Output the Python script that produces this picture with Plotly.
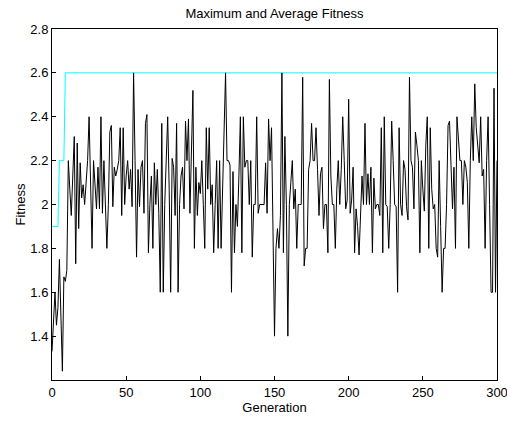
import plotly.graph_objects as go

# Generation numbers and fitness values
generations = list(range(0, 301))

avg_fitness = [
    1.33, 1.47, 1.60, 1.45, 1.53, 1.75, 1.50, 1.24, 1.67, 1.65,
    1.70, 2.20, 2.07, 1.95, 2.13, 2.31, 1.73, 2.28, 1.89, 2.19,
    2.03, 2.09, 2.00, 2.13, 2.20, 2.40, 2.07, 1.80, 2.20, 2.07,
    1.98, 2.17, 1.98, 2.40, 1.96, 2.20, 2.00, 1.80, 2.00, 2.33,
    2.36, 1.99, 2.17, 2.13, 2.16, 2.20, 2.35, 1.95, 2.35, 2.00,
    2.13, 2.20, 2.07, 2.16, 1.99, 2.60, 2.20, 1.76, 2.16, 1.99,
    2.17, 2.20, 1.96, 2.37, 2.41, 1.78, 2.00, 2.13, 1.80, 2.19,
    2.00, 2.16, 1.96, 1.60, 2.37, 1.60, 2.00, 2.20, 2.40, 2.07,
    1.60, 2.21, 2.17, 1.95, 2.37, 1.60, 2.00, 2.13, 2.17, 1.98,
    2.38, 2.20, 2.39, 1.96, 2.27, 2.52, 1.80, 2.17, 1.95, 2.10,
    2.05, 2.20, 2.00, 1.80, 2.35, 2.07, 2.35, 2.00, 2.09, 1.78,
    2.00, 2.20, 1.80, 2.20, 1.80, 2.07, 2.27, 2.60, 2.20, 2.20,
    2.18, 1.60, 2.15, 1.78, 2.00, 1.90, 2.13, 2.40, 1.78, 2.40,
    2.17, 2.20, 2.20, 2.00, 2.20, 1.76, 2.00, 2.00, 2.40, 1.96,
    2.00, 2.00, 2.00, 2.00, 2.19, 1.96, 2.39, 2.20, 2.35, 1.80,
    1.40, 1.80, 1.89, 1.80, 1.95, 2.60, 1.78, 2.31, 2.00, 1.40,
    2.00, 2.10, 2.20, 1.98, 2.07, 1.80, 2.00, 2.00, 2.00, 2.58,
    1.72, 1.80, 1.80, 2.16, 2.20, 2.37, 2.20, 2.20, 2.35, 2.16,
    1.95, 2.14, 2.17, 1.89, 2.00, 2.00, 1.78, 2.57, 2.13, 2.00,
    2.00, 1.80, 2.07, 2.20, 2.00, 2.16, 2.40, 2.20, 1.98, 2.02,
    2.48, 1.96, 2.02, 2.17, 1.78, 1.98, 1.90, 1.77, 1.97, 2.13,
    2.00, 2.37, 2.00, 2.14, 2.00, 2.17, 1.78, 2.12, 1.98, 2.00,
    2.00, 1.95, 2.35, 1.78, 2.40, 2.00, 1.99, 1.80, 2.00, 2.38,
    2.20, 2.00, 1.99, 1.60, 2.35, 2.00, 1.95, 2.20, 2.16, 1.99,
    1.93, 2.58, 2.20, 2.17, 1.98, 2.33, 2.27, 2.20, 1.78, 2.20,
    2.07, 1.97, 2.27, 2.40, 1.80, 2.35, 2.07, 1.98, 2.00, 1.80,
    1.76, 2.20, 1.90, 1.60, 1.80, 1.80, 2.00, 2.36, 2.38, 2.20,
    1.98, 2.17, 1.80, 2.40, 2.30, 2.20, 2.20, 2.00, 2.20, 2.17,
    2.10, 1.80, 2.20, 2.40, 2.20, 2.55, 2.35, 2.25, 2.19, 2.40,
    2.13, 2.16, 1.80, 2.20, 2.40, 2.00, 1.60, 1.60, 2.53, 1.60,
    2.20,
]

max_fitness = [1.9] * 5 + [2.2] * 4 + [2.6] * 292

y_ticks = [1.4, 1.6, 1.8, 2.0, 2.2, 2.4, 2.6, 2.8]
y_labels = ["1.4", "1.6", "1.8", "2", "2.2", "2.4", "2.6", "2.8"]
x_ticks = [0, 50, 100, 150, 200, 250, 300]

font_main = dict(family="Liberation Sans, Arial", size=13, color="#000000")

fig = go.Figure()
fig.add_trace(go.Scatter(x=generations, y=max_fitness, mode="lines",
                         line=dict(color="#00FFFF", width=1)))
fig.add_trace(go.Scatter(x=generations, y=avg_fitness, mode="lines",
                         line=dict(color="black", width=1)))

axis_style = dict(showline=True, linecolor="black", linewidth=1, mirror=True,
                  ticks="inside", ticklen=4, tickcolor="black",
                  showgrid=False, zeroline=False, tickfont=font_main,
                  ticklabeloverflow="allow", automargin=False)

fig.update_xaxes(range=[0, 300], tickvals=x_ticks,
                 title=dict(text="Generation", standoff=3, font=font_main),
                 **axis_style)
fig.update_yaxes(range=[1.2, 2.8], tickvals=y_ticks, ticktext=y_labels,
                 title=dict(text="Fitness", standoff=1, font=font_main),
                 **axis_style)

fig.update_layout(
    width=507, height=421,
    margin=dict(l=52, r=10, t=29, b=41, autoexpand=False),
    paper_bgcolor="white", plot_bgcolor="white",
    showlegend=False,
    title=dict(text="Maximum and Average Fitness", xref="paper", x=0.5,
               xanchor="center", y=0.969, yanchor="middle", font=font_main),
)

# drop the default 8px body margin so the figure fills the window
fig.write_html("out.html", config={"displayModeBar": False},
               post_script="document.body.style.margin='0';")
